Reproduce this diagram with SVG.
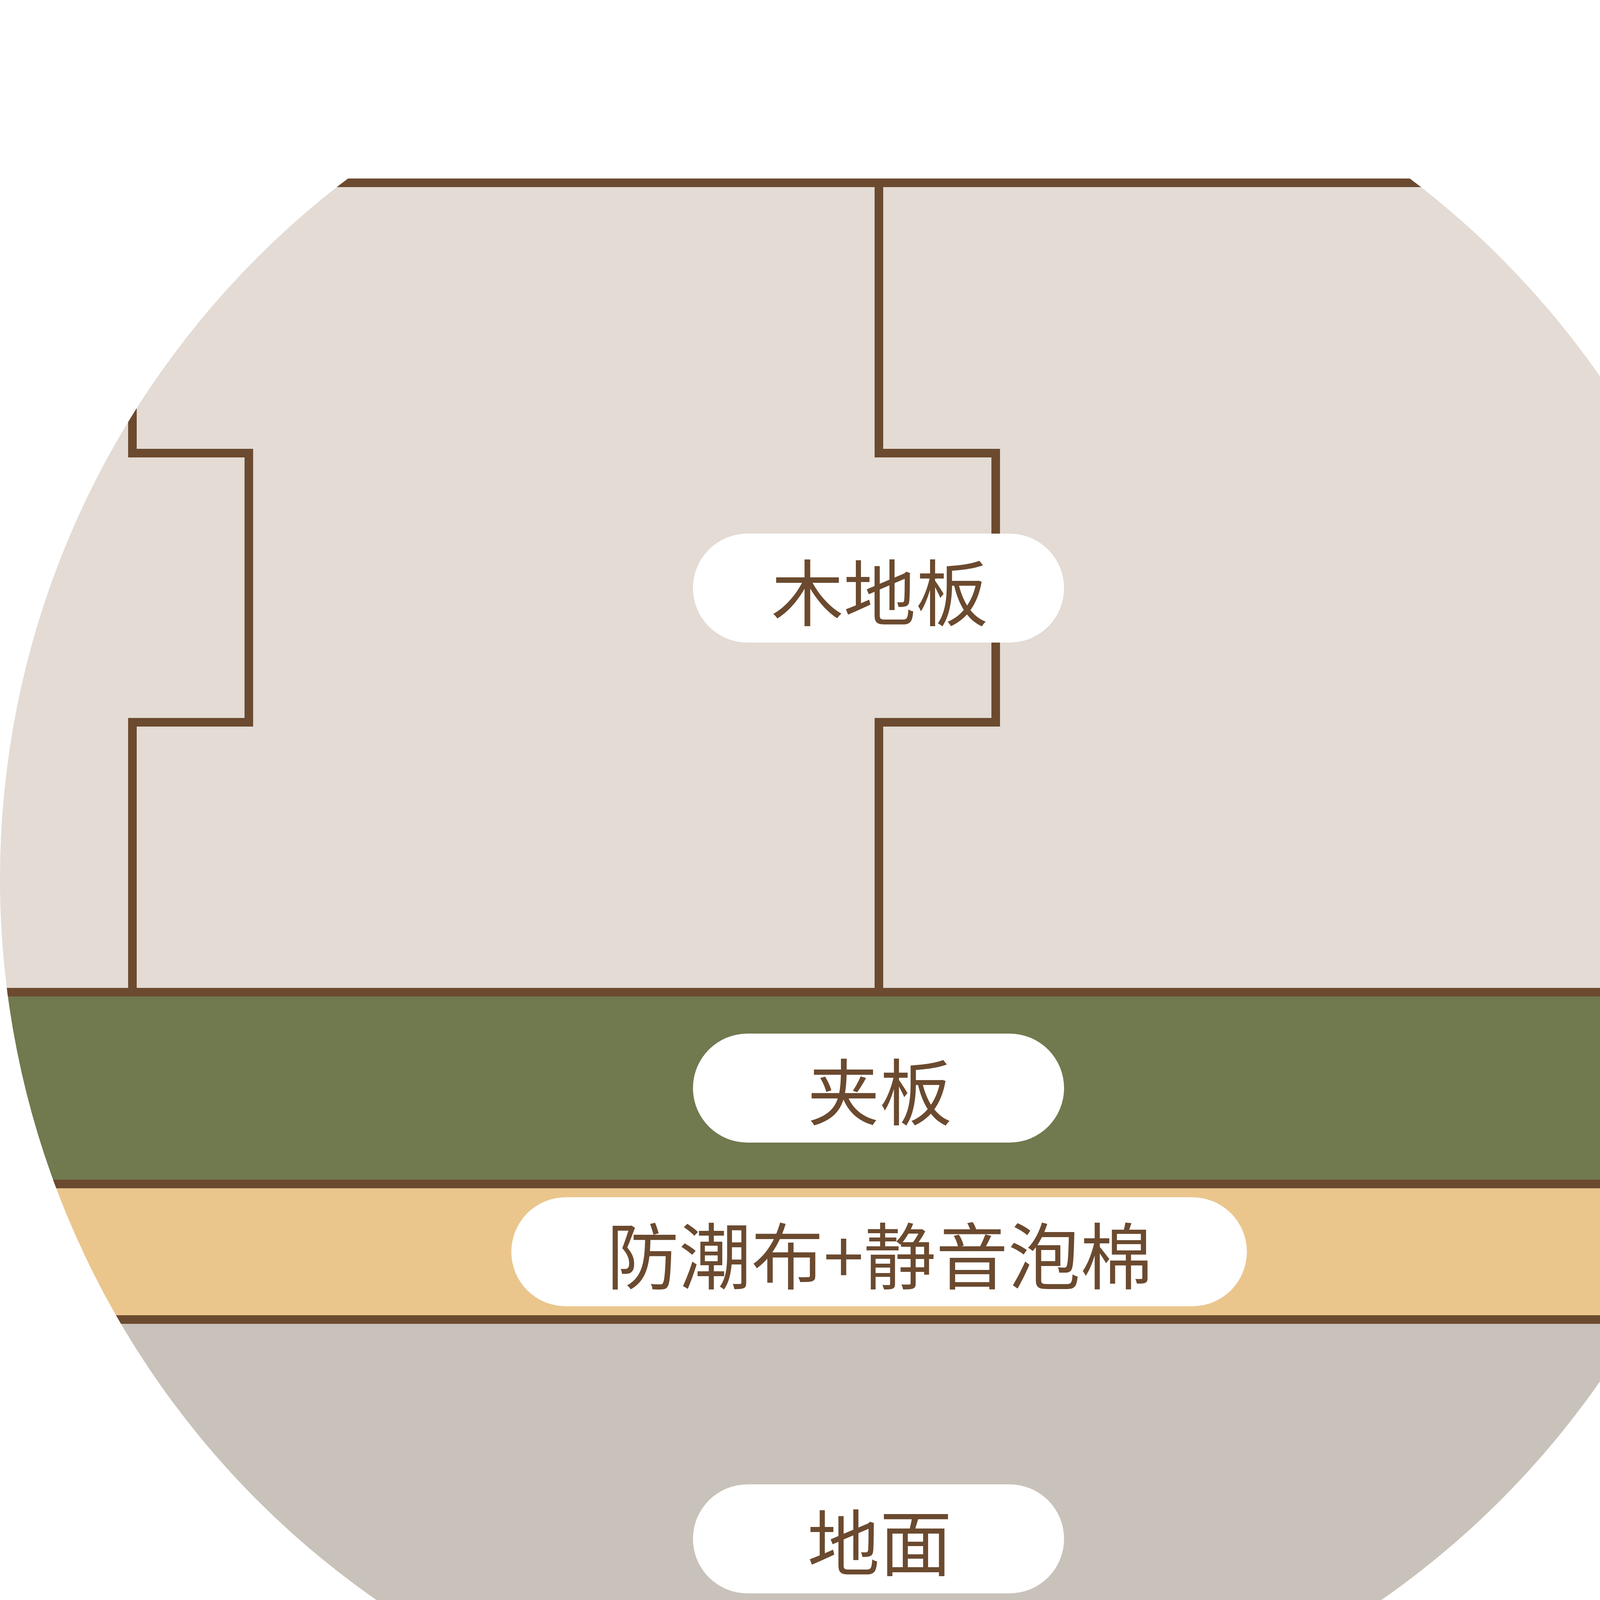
<svg xmlns="http://www.w3.org/2000/svg" width="4501" height="4500" viewBox="0 0 4501 4500">
<style>
.ln{fill:none;stroke:#6B4A2F;stroke-width:22}
.pill{fill:#fff}
.t{font-family:"Noto Sans CJK SC",sans-serif;font-size:185px;fill:#6B4A2F;text-anchor:middle;dominant-baseline:central}
</style>
<defs><clipPath id="c"><circle cx="2250" cy="2250" r="2250"/></clipPath></defs>
<rect width="4501" height="4500" fill="#fff"/>
<g clip-path="url(#c)">
<rect x="0" y="468" width="4501" height="2072" fill="#E3DBD4"/>
<rect x="0" y="2540" width="4501" height="491" fill="#71794F"/>
<rect x="0" y="3031" width="4501" height="347" fill="#EAC68D"/>
<rect x="0" y="3378" width="4501" height="1122" fill="#C9C2BA"/>
<g id="connectors">
<line class="ln" x1="0" y1="468" x2="4501" y2="468"/>
<path class="ln" d="M339 1000V1160H637V1849H339V2540"/>
<path class="ln" d="M2250 468V1160H2549V1849H2250V2540"/>
<path class="ln" d="M4161 1000V1160H4460V1849H4161V2540"/>
<path class="ln" d="M4460 1700V1849H4600"/>
<line class="ln" x1="0" y1="2540" x2="4501" y2="2540"/>
<line class="ln" x1="0" y1="3031" x2="4501" y2="3031"/>
<line class="ln" x1="0" y1="3378" x2="4501" y2="3378"/>
</g>
</g>
<g id="n1"><rect class="pill" x="1774" y="1366" width="950" height="279" rx="139.5"/><text class="t" x="2252" y="1507">木地板</text></g>
<g id="n2"><rect class="pill" x="1774" y="2646" width="950" height="279" rx="139.5"/><text class="t" x="2252" y="2785">夹板</text></g>
<g id="n3"><rect class="pill" x="1309" y="3065" width="1883" height="279" rx="139.5"/><text class="t" x="2252" y="3205">防潮布+静音泡棉</text></g>
<g id="n4"><rect class="pill" x="1774" y="3800" width="950" height="279" rx="139.5"/><text class="t" x="2252" y="3939">地面</text></g>
</svg>
